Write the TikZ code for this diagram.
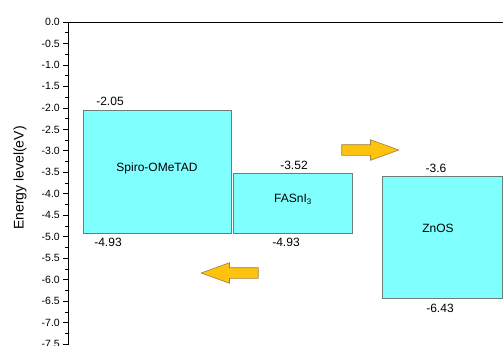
\documentclass[tikz,border=0pt]{standalone}
\usepackage{fontspec}
\setmainfont{Liberation Sans}
\usetikzlibrary{positioning,shapes.arrows}
\definecolor{bandfill}{HTML}{80FFFF}
\definecolor{bandedge}{HTML}{6E7C7C}
\definecolor{arrowfill}{HTML}{FFC20E}
\definecolor{arrowedge}{HTML}{9C8040}
\tikzset{
  band/.style={draw=bandedge, fill=bandfill, line width=0.8pt},
  level/.style={font=\fontsize{12}{14}\selectfont, inner sep=1pt},
  bandlabel/.style={font=\fontsize{12}{14}\selectfont},
  flow/.style={single arrow, draw=arrowedge, fill=arrowfill, line width=0.6pt,
    minimum height=57pt, single arrow head extend=5pt,
    single arrow tip angle=40, inner sep=0pt},
}
\begin{document}
\begin{tikzpicture}[x=1pt, y=42.96pt]
  \useasboundingbox (0,0.512) rectangle (503,-7.519);
  \draw[line width=0.9pt] (68,0) -- (503,0);
  \draw[line width=0.9pt] (68,0) -- (68,-7.519);
  \foreach \k in {0,...,30}
    \draw[line width=0.8pt] (68,-\k*0.25) -- ++(-3,0);
  \foreach \lab [count=\i from 0] in {0.0,-0.5,-1.0,-1.5,-2.0,-2.5,-3.0,-3.5,-4.0,-4.5,-5.0,-5.5,-6.0,-6.5,-7.0,-7.5}
    {
    \draw[line width=0.8pt] (68,-\i*0.5) -- ++(-5,0);
    \node[anchor=east, inner sep=0pt, font=\fontsize{10.5}{12}\selectfont] (t\i) at (60,-\i*0.5) {\lab};
    }
  \node[rotate=90, font=\fontsize{14}{16}\selectfont] (ylab) at (20,-3.63) {Energy level(eV)};

  \draw[band] (83,-2.05) rectangle (231,-4.93);
  \draw[band] (233,-3.52) rectangle (352,-4.93);
  \draw[band] (382,-3.6) rectangle (502,-6.43);

  \node[bandlabel] (spiro) at (157,-3.41) {Spiro-OMeTAD};
  \node[bandlabel] (fasni) at (293,-4.12) {FASnI\textsubscript{3}};
  \node[bandlabel] (znos) at (438,-4.795) {ZnOS};

  \node[level] (spirotop) at (110,-1.839) {-2.05};
  \node[level] (spirobot) at (108,-5.121) {-4.93};
  \node[level] (fasnitop) at (294,-3.329) {-3.52};
  \node[level] (fasnibot) at (286,-5.121) {-4.93};
  \node[level] (znostop) at (436,-3.399) {-3.6};
  \node[level] (znosbot) at (440,-6.657) {-6.43};

  \node[flow, shape border rotate=180] (holes) at (237,-5.843) {\rule{0pt}{10pt}};
  \node[flow] (elec) at (363,-2.98) {\rule{0pt}{10pt}};
\end{tikzpicture}
\end{document}
